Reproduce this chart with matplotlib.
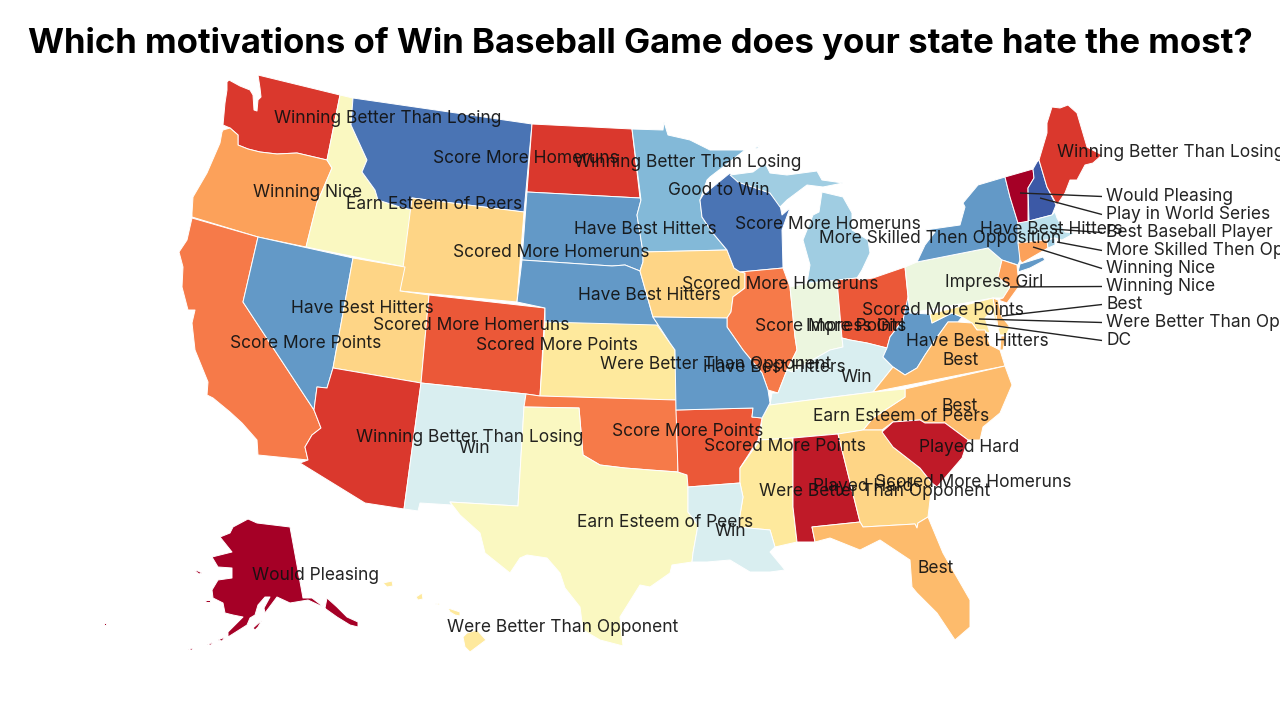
import matplotlib
matplotlib.use("Agg")
import matplotlib.pyplot as plt
from matplotlib.patches import Polygon

TITLE = "Which motivations of Win Baseball Game does your state hate the most?"

# colour of each motivation group
C_AK = "#a50026"; C_AL = "#bf1a28"; C_WA = "#da382d"; C_OH = "#eb5838"
C_CA = "#f67a49"; C_OR = "#fca15a"; C_VA = "#fdbb6c"; C_WY = "#fed586"
C_KS = "#fee99d"; C_TX = "#faf8c1"; C_PA = "#ecf6df"; C_NM = "#d9eef0"
C_MA = "#bce0ec"; C_MI = "#a0cde2"; C_MN = "#83b9d8"; C_NV = "#6399c7"
C_MT = "#4a74b4"; C_NH = "#3c59a6"

# traced state outlines (x, y in the map's own projected units)
WA = [(227,82),(229,80),(240,86),(250,90),(253,95),(254,110),(257,111),(258,100),(261,97),(260,88),(258,75),(340,95),(327,160),(297,153),(277,154),(260,152),(248,149),(238,145),(238,135),(230,128),(223,125),(225,103),(227,90)]
OR = [(223,130),(230,128),(238,135),(238,145),(248,149),(260,152),(277,154),(297,153),(327,160),(332,168),(317,203),(306,247),(258,237),(192,217),(192,213),(193,197),(207,173),(220,143),(222,132)]
CA = [(192,218),(258,237),(243,302),(314,410),(321,428),(312,435),(305,447),(308,460),(258,455),(257,440),(242,423),(230,412),(213,398),(207,395),(208,382),(195,350),(192,323),(195,310),(188,310),(182,287),(183,267),(179,252),(187,240)]
NV = [(258,237),(353,258),(333,368),(327,388),(317,387),(314,410),(243,302)]
ID = [(340,95),(353,98),(351,125),(367,160),(362,172),(375,190),(378,200),(400,207),(412,210),(405,267),(306,247),(317,203),(332,168),(327,160)]
MT = [(353,98),(532,124),(524,212),(412,198),(412,210),(400,207),(378,200),(375,190),(362,172),(367,160),(351,125)]
WY = [(412,198),(524,212),(517,302),(400,291)]
UT = [(353,258),(405,267),(400,291),(429,295),(421,383),(333,368)]
CO = [(429,295),(545,308),(540,396),(526,394),(421,383)]
AZ = [(333,368),(421,383),(404,509),(365,503),(300,463),(308,460),(305,447),(312,435),(321,428),(314,410),(317,387),(327,388)]
NM = [(421,383),(526,394),(524,407),(518,506),(450,502),(452,505),(420,503),(418,511),(404,509)]
ND = [(532,124),(632,129),(640,198),(527,192)]
SD = [(527,192),(640,198),(641,200),(637,215),(643,252),(643,262),(640,271),(625,265),(612,266),(522,260)]
NE = [(522,260),(612,266),(625,265),(640,271),(653,317),(670,343),(545,322),(545,308),(517,302)]
KS = [(545,322),(657,325),(670,343),(675,350),(676,400),(540,396)]
OK = [(526,394),(540,396),(676,400),(678,472),(650,470),(625,468),(600,465),(583,455),(579,408),(524,407)]
TX = [(524,407),(579,408),(583,455),(600,465),(625,468),(650,470),(678,472),(687,475),(688,487),(688,512),(698,525),(693,553),(692,562),(672,565),(670,573),(650,587),(640,585),(635,593),(620,617),(623,646),(600,640),(583,630),(580,607),(565,588),(560,573),(547,558),(527,555),(520,558),(510,573),(485,553),(480,533),(460,515),(450,502),(518,506)]
MN = [(632,129),(663,130),(664,122),(668,135),(690,140),(710,150),(745,150),(710,177),(707,180),(700,200),(702,217),(712,232),(727,250),(643,252),(637,215),(641,200)]
IA = [(643,252),(727,250),(734,268),(745,273),(745,288),(733,297),(731,312),(727,318),(653,317),(640,271),(643,262)]
WI = [(700,200),(703,195),(730,173),(738,182),(770,193),(780,205),(782,215),(790,208),(782,230),(783,268),(740,272),(734,268),(727,250),(712,232),(702,217)]
IL = [(740,272),(783,268),(790,287),(795,337),(797,350),(787,370),(778,393),(768,390),(762,373),(743,350),(727,327),(727,318),(731,312),(733,297),(745,288),(745,273)]
IN = [(790,287),(807,283),(837,280),(842,338),(843,347),(830,350),(807,363),(792,372),(787,370),(797,350),(795,337)]
MI_LOW = [(807,283),(810,265),(803,240),(813,215),(819,212),(822,192),(843,197),(852,213),(852,230),(868,240),(870,253),(862,270),(857,278),(837,280)]
MI_UP = [(730,175),(753,172),(765,163),(770,173),(787,175),(817,171),(822,180),(843,183),(823,187),(807,185),(787,200),(780,207),(770,193),(738,182)]
MI_ISLE = [(755,148),(760,145),(757,149)]
OH = [(837,280),(857,278),(860,280),(873,278),(905,267),(908,297),(910,313),(903,320),(890,337),(887,348),(867,343),(850,340),(842,338)]
KY = [(792,372),(807,363),(830,350),(843,347),(842,338),(850,340),(867,343),(887,348),(883,357),(893,367),(873,392),(770,405),(772,393),(778,393),(787,370)]
WV = [(908,297),(910,313),(930,314),(932,323),(952,313),(962,317),(958,322),(948,322),(935,340),(925,355),(917,368),(905,375),(893,367),(883,357),(887,348),(890,337),(903,320)]
PA = [(905,267),(917,262),(988,248),(1002,260),(998,277),(1010,287),(1003,298),(993,298),(910,313)]
NY = [(917,262),(925,245),(935,232),(925,230),(960,225),(965,207),(963,203),(978,185),(1005,177),(1010,197),(1018,223),(1020,243),(1020,260),(1018,265),(1002,260),(988,248)]
LI = [(1018,272),(1020,264),(1043,257),(1045,260),(1030,268)]
VT = [(1005,177),(1033,169),(1034,178),(1028,188),(1028,222),(1018,223),(1010,197)]
NH = [(1037,162),(1039,160),(1047,187),(1056,205),(1052,215),(1029,221),(1028,188),(1034,178),(1033,169)]
ME = [(1039,160),(1047,133),(1047,123),(1052,107),(1060,108),(1068,105),(1077,113),(1087,147),(1102,155),(1093,163),(1085,165),(1077,180),(1070,180),(1065,193),(1057,205),(1047,187)]
MA = [(1029,221),(1052,215),(1055,212),(1057,218),(1065,232),(1075,233),(1062,240),(1055,238),(1047,240),(1018,243),(1018,223)]
CT = [(1018,243),(1047,240),(1048,248),(1022,263),(1020,260)]
RI = [(1047,240),(1055,238),(1055,245),(1048,248)]
NJ = [(1002,260),(1017,265),(1018,275),(1020,285),(1007,303),(998,300),(1003,298),(1010,287),(998,277)]
DE = [(993,298),(998,300),(1002,317),(1010,327),(998,328)]
MD = [(930,314),(993,298),(998,328),(1010,327),(1006,335),(1000,335),(992,310),(985,318),(990,333),(977,330),(972,323),(962,317),(952,313),(932,323)]
VA = [(873,392),(893,367),(905,375),(917,368),(925,355),(935,340),(948,322),(958,322),(972,323),(977,330),(985,330),(990,345),(1000,350),(1005,366)]
VA_E = [(1006,336),(1001,336),(1000,350),(1003,350)]
NC = [(905,389),(1005,366),(1012,385),(1000,413),(983,427),(980,440),(968,440),(945,423),(925,423),(920,420),(893,422),(882,430),(863,430),(873,418),(905,397)]
TN = [(770,405),(873,392),(905,389),(905,397),(873,418),(863,430),(838,434),(793,438),(760,440),(762,418),(770,403)]
AR = [(676,410),(753,408),(752,417),(762,418),(758,440),(740,468),(740,483),(688,487),(687,475),(678,472)]
MO = [(653,317),(727,318),(727,327),(743,350),(762,373),(768,390),(770,403),(762,418),(752,417),(753,408),(676,410),(675,350),(670,343)]
MS = [(760,440),(793,438),(793,507),(797,542),(775,547),(770,530),(738,527),(743,497),(740,483),(740,468)]
LA = [(688,487),(740,483),(743,497),(738,527),(770,530),(775,547),(770,552),(785,570),(770,572),(750,572),(730,560),(707,562),(692,562),(693,553),(698,525),(688,512)]
AL = [(793,438),(838,434),(860,522),(812,527),(815,542),(803,542),(797,542),(793,507)]
GA = [(838,434),(863,430),(882,430),(893,447),(920,468),(932,483),(928,517),(918,523),(917,528),(915,524),(863,527),(860,522)]
SC = [(882,432),(893,422),(920,420),(925,423),(945,423),(968,440),(962,458),(937,487),(932,483),(920,468),(893,447)]
FL = [(812,527),(860,522),(863,527),(915,524),(917,528),(918,523),(928,517),(943,553),(970,600),(970,627),(955,640),(937,613),(917,593),(912,587),(910,560),(880,540),(860,550),(830,538),(815,542)]
AK = [(248,519),(257,523),(290,527),(303,598),(312,598),(325,608),(327,598),(337,607),(347,617),(358,622),(358,627),(350,625),(337,617),(323,607),(308,600),(290,603),(277,597),(265,613),(264,608),(270,597),(265,597),(258,605),(255,615),(250,618),(247,625),(228,637),(228,632),(243,617),(233,615),(225,613),(223,603),(213,598),(212,590),(218,580),(232,578),(232,568),(218,567),(212,557),(232,552),(220,537),(230,533),(233,527)]
AK_I1 = [(253,628),(262,620),(258,627),(255,630)]
AK_I2 = [(218,640),(225,637),(222,641)]
AK_I3 = [(207,645),(213,642),(211,645)]
AK_I4 = [(205,600),(210,600),(210,602),(206,602)]
AK_I5 = [(194,570),(198,571),(202,573),(199,574)]
AK_I6 = [(104,623),(106,623),(106,625),(104,625)]
AK_I7 = [(188,650),(192,648),(193,650)]
HI_K = [(383,583),(392,581),(393,586),(387,587)]
HI_O = [(416,597),(422,593),(423,599),(418,600)]
HI_M = [(435,604),(440,603),(439,605)]
HI_U = [(448,608),(460,612),(460,616),(455,615),(450,612)]
HI_B = [(467,633),(477,630),(486,640),(470,652),(465,647),(463,637)]

state_shapes = [
    (WA,C_WA),(OR,C_OR),(CA,C_CA),(NV,C_NV),(ID,C_TX),(MT,C_MT),(WY,C_WY),(UT,C_WY),(CO,C_OH),
    (AZ,C_WA),(NM,C_NM),(ND,C_WA),(SD,C_NV),(NE,C_NV),(KS,C_KS),(OK,C_CA),(TX,C_TX),(MN,C_MN),
    (IA,C_WY),(WI,C_MT),(IL,C_CA),(IN,C_PA),(MI_LOW,C_MI),(MI_UP,C_MI),(MI_ISLE,C_MI),(OH,C_OH),(KY,C_NM),
    (WV,C_NV),(PA,C_PA),(NY,C_NV),(LI,C_NV),(VT,C_AK),(NH,C_NH),(ME,C_WA),(MA,C_MA),(CT,C_OR),
    (RI,C_MI),(NJ,C_OR),(DE,C_VA),(MD,C_KS),(VA,C_VA),(VA_E,C_VA),(NC,C_VA),(TN,C_TX),(AR,C_OH),
    (MO,C_NV),(MS,C_KS),(LA,C_NM),(AL,C_AL),(GA,C_WY),(SC,C_AL),(FL,C_VA),(AK,C_AK),
    (AK_I1,C_AK),(AK_I2,C_AK),(AK_I3,C_AK),(AK_I4,C_AK),(AK_I5,C_AK),(AK_I6,C_AK),(AK_I7,C_AK),
    (HI_K,C_KS),(HI_O,C_KS),(HI_M,C_KS),(HI_U,C_KS),(HI_B,C_KS),
]

map_labels = ["Winning Better Than Losing","Score More Homeruns","Winning Better Than Losing","Winning Nice",
    "Earn Esteem of Peers","Good to Win","Have Best Hitters","Score More Homeruns","More Skilled Then Opposition",
    "Scored More Homeruns","Scored More Homeruns","Have Best Hitters","Have Best Hitters","Scored More Homeruns",
    "Score More Points","Scored More Points","Were Better Than Opponent","Have Best Hitters","Score More Points",
    "Impress Girl","Scored More Points","Have Best Hitters","Best","Win","Best","Earn Esteem of Peers","Played Hard",
    "Score More Points","Scored More Points","Winning Better Than Losing","Win","Played Hard","Scored More Homeruns",
    "Were Better Than Opponent","Earn Esteem of Peers","Win","Best","Would Pleasing","Were Better Than Opponent",
    "Impress Girl","Have Best Hitters","Winning Better Than Losing"]
map_label_x = [388,526,688,308,434,719,645,828,940,551,780,649,362,471,306,557,716,774,831,855,943,977,961,856,960,901,969,
    688,785,470,474,863,973,875,665,730,936,316,563,994,1051,1171]
map_label_y = [118.5,158.5,162.5,192.5,204.5,190.5,229.5,224.5,238.5,252.5,284.5,295.5,308.5,325.5,343.5,345.5,364.5,367.5,326.5,326.5,310.5,341.5,360.5,377.5,406.5,416.5,447.5,
    431.5,446.5,437.5,448.5,486.5,482.5,491.5,522.5,531.5,568.5,575.5,627.5,282.5,229.5,152.5]

callout_labels = ["Would Pleasing","Play in World Series","Best Baseball Player","More Skilled Then Opposition",
    "Winning Nice","Winning Nice","Best","Were Better Than Opposition","DC"]
callout_y = [196.5,214.5,232.5,250.5,268.5,286.5,304.5,322.5,340.5]
callout_tx = [1020,1040,1052,1057,1033,1010,1002,979,975]
callout_ty = [193,198,229,242,247,287,316,319,323]

FONT = ["Inter", "DejaVu Sans"]
fig = plt.figure(figsize=(12.8, 7.2), dpi=100, facecolor="white")
ax = fig.add_axes([0, 0, 1, 1])
ax.set_xlim(0, 1280); ax.set_ylim(720, 0); ax.axis("off")

for pts, col in state_shapes:
    ax.add_patch(Polygon(pts, closed=True, facecolor=col, edgecolor="white", linewidth=0.7, joinstyle="round"))

for lab, x, y in zip(map_labels, map_label_x, map_label_y):
    ax.text(x, y, lab, ha="center", va="center", fontsize=12.5, color="#111111", family=FONT, alpha=0.92)

for lab, y, tx, ty in zip(callout_labels, callout_y, callout_tx, callout_ty):
    ax.plot([tx, 1102], [ty, y], color="#222222", lw=1.0, solid_capstyle="butt")
    ax.text(1106, y, lab, ha="left", va="center", fontsize=12.5, color="#111111", family=FONT, alpha=0.92)

ax.text(640, 43, TITLE, ha="center", va="center", fontsize=25.0, fontweight="bold", color="black", family=FONT)
fig.savefig("out.png", dpi=100, facecolor="white")
